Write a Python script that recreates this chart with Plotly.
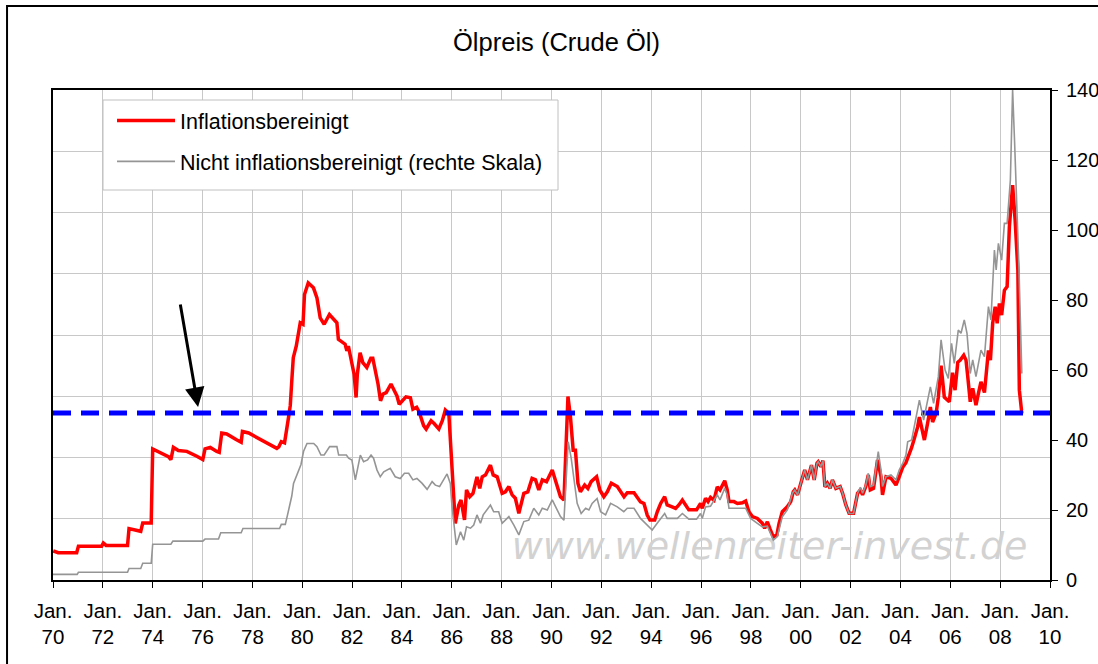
import plotly.graph_objects as go

# ---------------- data ----------------
red_years = [1970.01, 1970.21, 1970.95, 1971.02, 1971.95, 1972.02, 1972.13, 1972.99, 1973.05, 1973.52,
             1973.60, 1973.94, 1974.00, 1974.30, 1974.63, 1974.73, 1974.83, 1975.03, 1975.37, 1975.77,
             1976.01, 1976.10, 1976.31, 1976.57, 1976.67, 1976.77, 1976.97, 1977.38, 1977.55, 1977.60,
             1977.85, 1978.98, 1979.06, 1979.16, 1979.29, 1979.45, 1979.52, 1979.58, 1979.64, 1979.76,
             1979.85, 1979.92, 1980.03, 1980.09, 1980.24, 1980.45, 1980.59, 1980.72, 1980.88, 1981.09,
             1981.39, 1981.45, 1981.72, 1981.79, 1981.85, 1981.99, 1982.08, 1982.16, 1982.21, 1982.32,
             1982.43, 1982.59, 1982.75, 1982.83, 1983.04, 1983.14, 1983.24, 1983.37, 1983.56, 1983.80,
             1983.89, 1984.16, 1984.34, 1984.44, 1984.59, 1984.69, 1984.87, 1984.97, 1985.17, 1985.30,
             1985.48, 1985.62, 1985.74, 1985.88, 1986.01, 1986.14, 1986.28, 1986.37, 1986.51, 1986.59,
             1986.72, 1986.85, 1987.01, 1987.12, 1987.22, 1987.35, 1987.55, 1987.66, 1987.82, 1988.02,
             1988.15, 1988.29, 1988.42, 1988.55, 1988.69, 1988.89, 1989.05, 1989.22, 1989.36, 1989.49,
             1989.63, 1989.80, 1990.03, 1990.16, 1990.36, 1990.50, 1990.66, 1990.76, 1990.87, 1990.96,
             1991.06, 1991.16, 1991.33, 1991.46, 1991.59, 1991.81, 1991.94, 1992.10, 1992.24, 1992.40,
             1992.64, 1992.91, 1993.04, 1993.31, 1993.57, 1993.71, 1993.84, 1993.95, 1994.14, 1994.24,
             1994.38, 1994.54, 1994.64, 1994.84, 1994.98, 1995.11, 1995.25, 1995.38, 1995.51, 1995.82,
             1995.98, 1996.05, 1996.18, 1996.28, 1996.38, 1996.52, 1996.65, 1996.76, 1996.95, 1997.05,
             1997.12, 1997.32, 1997.46, 1997.66, 1997.79, 1997.92, 1998.06, 1998.26, 1998.46, 1998.55,
             1998.66, 1998.77, 1998.90, 1999.04, 1999.13, 1999.26, 1999.46, 1999.60, 1999.70, 1999.76,
             1999.87, 2000.00, 2000.16, 2000.27, 2000.43, 2000.54, 2000.65, 2000.70, 2000.81, 2000.89,
             2000.97, 2001.07, 2001.18, 2001.27, 2001.41, 2001.58, 2001.68, 2001.81, 2001.94, 2002.12,
             2002.28, 2002.39, 2002.48, 2002.61, 2002.71, 2002.79, 2002.92, 2003.08, 2003.22, 2003.28,
             2003.42, 2003.62, 2003.82, 2003.95, 2004.09, 2004.22, 2004.35, 2004.45, 2004.56, 2004.69,
             2004.76, 2004.85, 2004.96, 2005.09, 2005.20, 2005.29, 2005.43, 2005.52, 2005.63, 2005.76,
             2005.89, 2005.96, 2006.09, 2006.19, 2006.30, 2006.40, 2006.54, 2006.63, 2006.70, 2006.80,
             2006.90, 2007.03, 2007.13, 2007.23, 2007.37, 2007.53, 2007.61, 2007.70, 2007.80, 2007.88,
             2007.97, 2008.06, 2008.17, 2008.28, 2008.37, 2008.50, 2008.60, 2008.71, 2008.77, 2008.87]
red_values = [9.5, 8.9, 8.9, 11.0, 11.0, 12.1, 11.3, 11.3, 16.8, 15.9,
              18.6, 18.6, 42.8, 41.7, 40.3, 39.3, 43.3, 42.3, 42.0, 40.4,
              39.3, 42.8, 43.3, 42.0, 41.7, 48.0, 47.7, 45.7, 45.0, 48.5,
              48.0, 43.0, 43.5, 45.2, 44.8, 53.1, 57.0, 65.0, 72.6, 76.4,
              80.2, 84.0, 83.5, 93.2, 97.0, 95.4, 92.1, 85.6, 83.5, 86.7,
              84.0, 78.6, 77.0, 74.8, 76.4, 71.5, 67.2, 59.6, 67.2, 74.2,
              71.0, 69.4, 72.4, 72.4, 64.0, 58.5, 60.7, 61.2, 64.0, 60.1,
              57.4, 59.8, 59.5, 55.8, 56.4, 54.9, 50.4, 49.3, 52.0, 51.0,
              49.3, 52.0, 55.5, 54.4, 38.1, 18.5, 24.5, 26.1, 19.6, 29.4,
              27.2, 28.3, 33.7, 29.9, 33.7, 34.3, 37.5, 34.3, 33.7, 28.3,
              28.8, 30.5, 27.8, 26.7, 21.8, 28.3, 28.8, 33.2, 32.7, 29.4,
              32.7, 32.1, 35.9, 32.7, 27.2, 26.1, 59.9, 53.3, 42.4, 42.4,
              31.6, 28.8, 31.0, 29.9, 32.1, 33.7, 29.4, 27.2, 28.8, 31.6,
              30.5, 27.2, 28.5, 28.5, 25.5, 25.0, 21.2, 19.6, 19.6, 22.2,
              25.0, 27.2, 24.5, 23.9, 23.4, 24.5, 26.1, 24.5, 22.9, 22.9,
              25.0, 23.4, 26.7, 25.6, 27.0, 26.1, 30.4, 29.4, 32.4, 29.4,
              25.6, 25.6, 25.0, 25.2, 25.8, 22.3, 20.7, 20.1, 18.5, 16.9,
              19.0, 16.6, 14.1, 14.7, 18.5, 22.3, 23.9, 25.6, 28.8, 29.4,
              27.8, 31.5, 35.9, 32.7, 37.5, 32.7, 38.1, 38.6, 37.0, 39.0,
              30.4, 31.6, 29.9, 32.7, 29.9, 30.5, 28.3, 24.5, 21.8, 21.8,
              28.3, 29.4, 27.8, 30.5, 34.3, 29.4, 29.9, 39.2, 33.7, 27.8,
              33.7, 33.2, 31.0, 33.7, 36.8, 38.3, 40.8, 43.3, 46.3, 50.0,
              53.2, 50.0, 45.7, 51.2, 56.5, 51.6, 54.4, 59.7, 70.0, 59.7,
              58.6, 58.2, 67.7, 62.0, 71.1, 71.8, 73.4, 71.8, 66.4, 58.2,
              62.6, 57.1, 61.0, 64.7, 61.2, 75.0, 71.8, 83.8, 89.2, 83.8,
              90.3, 86.5, 94.6, 95.8, 115.3, 128.9, 117.6, 101.2, 62.0, 54.4]

gray_years = [1970.00, 1970.97, 1971.02, 1972.99, 1973.05, 1973.52, 1973.60, 1973.94, 1974.00, 1974.73,
              1974.81, 1976.01, 1976.10, 1976.64, 1976.73, 1977.55, 1977.62, 1979.09, 1979.16, 1979.32,
              1979.41, 1979.50, 1979.58, 1979.65, 1979.75, 1979.85, 1979.95, 1980.05, 1980.19, 1980.46,
              1980.59, 1980.75, 1980.88, 1981.10, 1981.39, 1981.46, 1981.77, 1981.86, 1981.99, 1982.13,
              1982.22, 1982.33, 1982.46, 1982.62, 1982.76, 1982.86, 1983.00, 1983.13, 1983.27, 1983.53,
              1983.73, 1983.93, 1984.10, 1984.27, 1984.44, 1984.60, 1984.81, 1985.01, 1985.21, 1985.34,
              1985.51, 1985.68, 1985.81, 1985.94, 1986.01, 1986.18, 1986.35, 1986.48, 1986.59, 1986.75,
              1986.88, 1987.01, 1987.15, 1987.26, 1987.55, 1987.68, 1987.88, 1988.02, 1988.15, 1988.29,
              1988.49, 1988.69, 1988.89, 1989.09, 1989.29, 1989.49, 1989.63, 1989.83, 1990.03, 1990.16,
              1990.36, 1990.50, 1990.67, 1990.79, 1990.90, 1991.03, 1991.19, 1991.37, 1991.50, 1991.63,
              1991.83, 1991.97, 1992.17, 1992.37, 1992.64, 1992.90, 1993.04, 1993.31, 1993.57, 1993.84,
              1994.04, 1994.24, 1994.54, 1994.64, 1995.05, 1995.25, 1995.51, 1995.82, 1995.98, 1996.05,
              1996.18, 1996.38, 1996.65, 1996.76, 1996.95, 1997.05, 1997.12, 1997.79, 1997.99, 1998.26,
              1998.46, 1998.66, 1998.90, 1999.06, 1999.26, 1999.46, 1999.67, 1999.76, 1999.87, 2000.00,
              2000.16, 2000.27, 2000.43, 2000.54, 2000.65, 2000.70, 2000.81, 2000.89, 2000.97, 2001.07,
              2001.18, 2001.27, 2001.41, 2001.58, 2001.68, 2001.81, 2001.94, 2002.12, 2002.28, 2002.39,
              2002.48, 2002.61, 2002.71, 2002.79, 2002.92, 2003.11, 2003.22, 2003.28, 2003.42, 2003.62,
              2003.82, 2003.95, 2004.09, 2004.22, 2004.29, 2004.45, 2004.56, 2004.76, 2004.93, 2005.20,
              2005.33, 2005.52, 2005.63, 2005.79, 2005.92, 2006.05, 2006.16, 2006.32, 2006.43, 2006.56,
              2006.67, 2006.80, 2006.90, 2007.03, 2007.23, 2007.37, 2007.53, 2007.63, 2007.77, 2007.84,
              2007.93, 2008.06, 2008.17, 2008.28, 2008.41, 2008.50, 2008.58, 2008.66, 2008.75, 2008.87]
gray_values = [1.6, 1.6, 2.2, 2.2, 3.3, 3.3, 4.8, 4.8, 10.2, 10.2,
               11.1, 11.1, 11.7, 11.7, 13.5, 13.5, 14.7, 14.7, 15.9, 15.9,
               18.6, 21.5, 24.0, 27.6, 29.5, 31.4, 33.0, 36.7, 39.0, 39.0,
               38.1, 35.7, 35.7, 38.1, 38.1, 35.7, 35.7, 34.8, 34.3, 28.6,
               31.4, 35.7, 33.8, 34.3, 35.7, 34.8, 31.4, 29.5, 30.9, 31.9,
               29.5, 29.0, 30.5, 30.5, 28.6, 29.0, 27.6, 25.9, 28.1, 27.1,
               26.7, 28.6, 30.3, 27.6, 20.9, 10.0, 13.8, 11.4, 15.2, 14.8,
               15.7, 18.6, 16.2, 18.6, 21.4, 19.5, 19.5, 16.2, 17.1, 18.1,
               15.7, 12.9, 16.7, 17.1, 20.5, 18.6, 20.5, 20.0, 22.9, 20.9,
               18.1, 17.1, 39.5, 34.8, 28.6, 21.9, 19.0, 20.5, 20.0, 21.9,
               23.3, 19.5, 18.6, 21.9, 20.9, 19.5, 20.5, 20.5, 17.6, 15.7,
               14.3, 16.2, 19.0, 17.6, 17.6, 19.0, 17.4, 17.4, 19.0, 17.6,
               20.9, 21.1, 24.3, 22.9, 26.2, 24.3, 20.5, 20.5, 17.6, 16.2,
               15.2, 15.4, 11.4, 12.4, 18.1, 20.0, 24.8, 25.7, 24.3, 27.6,
               31.4, 28.6, 32.9, 28.6, 33.3, 33.8, 32.4, 34.1, 26.7, 27.6,
               26.2, 28.6, 26.2, 26.7, 24.8, 21.4, 19.0, 19.0, 24.8, 26.5,
               24.8, 27.1, 30.5, 26.7, 27.1, 36.7, 31.4, 26.7, 29.5, 30.0,
               28.6, 31.4, 33.3, 35.7, 39.5, 40.0, 43.8, 51.4, 45.7, 55.2,
               50.5, 58.1, 68.6, 60.0, 57.6, 67.6, 61.9, 71.4, 70.5, 74.3,
               70.5, 59.0, 62.9, 58.1, 65.7, 63.8, 78.1, 74.3, 94.3, 88.6,
               96.2, 91.4, 101.9, 101.9, 114.3, 140.0, 125.0, 110.0, 90.0, 59.0]

reference_level = 54.5          # blue dashed line, left (inflation adjusted) scale
x_ticks = list(range(1970, 2011, 2))
x_ticktext = ["Jan.<br>%02d" % (y % 100) for y in x_ticks]

FONT = "Liberation Sans, Arial, sans-serif"

fig = go.Figure()

# watermark drawn first so that the lines sit above it
fig.add_trace(go.Scatter(
    x=[1998.75], y=[8.8], yaxis="y2", mode="text",
    text=["www.wellenreiter-invest.de"],
    textfont=dict(family="DejaVu Sans", size=38, color="#d2d2d2", style="italic"),
    showlegend=False, hoverinfo="skip"))

fig.add_trace(go.Scatter(
    x=red_years, y=red_values, mode="lines", name="Inflationsbereinigt",
    line=dict(color="#ff0000", width=3.5), legendgroup="a", legendrank=1))

fig.add_trace(go.Scatter(
    x=gray_years, y=gray_values, mode="lines", yaxis="y2",
    name="Nicht inflationsbereinigt (rechte Skala)",
    line=dict(color="#959595", width=1.6), legendgroup="b", legendrank=2))

fig.add_trace(go.Scatter(
    x=[1970, 2010], y=[reference_level, reference_level], mode="lines",
    line=dict(color="#0000ff", width=5, dash="18px,10px"),
    showlegend=False, hoverinfo="skip"))

fig.update_layout(
    width=1098, height=664, autosize=False,
    margin=dict(l=53, r=48, t=90, b=84, autoexpand=False),
    paper_bgcolor="white", plot_bgcolor="white",
    font=dict(family=FONT, size=20, color="black"),
    title=dict(text="Ölpreis (Crude Öl)", x=0.505, xref="paper", xanchor="center",
               y=1 - 42 / 664, yref="container", yanchor="middle",
               font=dict(family=FONT, size=25.5, color="black")),
    xaxis=dict(range=[1970, 2010], tickmode="array", tickvals=x_ticks, ticktext=x_ticktext,
               showgrid=True, gridcolor="#c8c8c8", gridwidth=1, automargin=False,
               ticks="outside", ticklen=6, tickcolor="black", tickwidth=1,
               ticklabelstandoff=5,
               showline=True, linecolor="black", linewidth=2, mirror=True,
               zeroline=False, tickfont=dict(size=20.5)),
    yaxis=dict(range=[0, 160], dtick=20, showticklabels=False, showgrid=True, automargin=False,
               gridcolor="#c8c8c8", gridwidth=1, ticks="", zeroline=False,
               showline=True, linecolor="black", linewidth=2),
    yaxis2=dict(range=[0, 140], dtick=20, overlaying="y", side="right", showgrid=False,
                automargin=False,
                ticks="outside", ticklen=6, tickcolor="black", zeroline=False,
                ticklabelstandoff=4,
                showline=True, linecolor="black", linewidth=2, tickfont=dict(size=20)),
    legend=dict(x=0.0592, y=0.9796, xanchor="left", yanchor="top",
                bgcolor="rgba(0,0,0,0)", borderwidth=0,
                font=dict(family=FONT, size=21.5), traceorder="grouped",
                tracegroupgap=10, itemwidth=58),
    showlegend=True,
)

# legend frame (white box with light grey border, covering the grid)
fig.add_shape(type="rect", xref="paper", yref="paper",
              x0=(103 - 53) / 997, x1=(558 - 53) / 997,
              y0=(580 - 190) / 490, y1=(580 - 100) / 490,
              line=dict(color="#c0c0c0", width=1), fillcolor="white", layer="above")

# arrow pointing at the dashed line
fig.add_annotation(x=1975.82, y=56.5, xref="x", yref="y", ax=-18, ay=-104,
                   showarrow=True, arrowhead=2, arrowsize=1.3, arrowwidth=3,
                   arrowcolor="black", text="", standoff=0)

# outer chart frame (left and top edges visible)
fig.add_shape(type="rect", xref="paper", yref="paper",
              x0=-0.0461, x1=1.2, y0=-0.4, y1=1.1714,
              line=dict(color="black", width=2), fillcolor="rgba(0,0,0,0)", layer="below")

fig.write_html(
    "out.html",
    config={"displayModeBar": False, "responsive": False},
    post_script="document.body.style.margin='0';document.body.style.overflow='hidden';",
)
